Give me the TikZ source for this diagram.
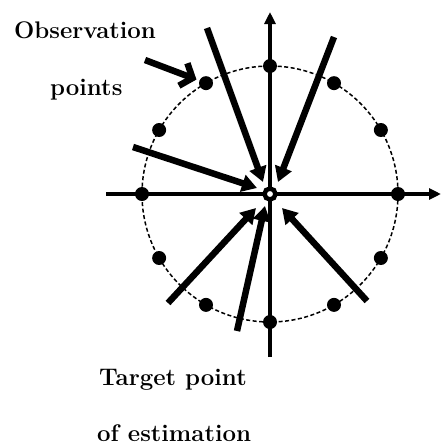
\documentclass[tikz,border=0pt]{standalone}
\usetikzlibrary{arrows.meta,calc}
\begin{document}
\begin{tikzpicture}[x=1pt,y=-1pt,
  axis/.style={line width=3.5pt,-{Triangle[length=12pt,width=11pt]}},
  obsarrow/.style={line width=6.5pt,-{Triangle[length=15pt,width=17pt]}},
  labelarrow/.style={line width=6.5pt,-{Straight Barb[length=10pt,width=24pt,line width=6.5pt]}},
  obsdot/.style={circle,fill=black,inner sep=0pt,minimum size=14pt},
  lbl/.style={font=\fontsize{24}{28}\selectfont\bfseries,anchor=base west,inner sep=0pt}]
\useasboundingbox (0,0) rectangle (441,448);
\coordinate (c) at (270,194);
\draw[line width=1.5pt,dash pattern=on 4pt off 2.5pt] (c) circle (128);
\coordinate (xl) at (106,194);
\coordinate (xr) at (441,194);
\coordinate (yb) at (270,357);
\coordinate (yt) at (270,12);
\draw[axis] (xl) -- (xr);
\draw[axis] (yb) -- (yt);
\foreach \a in {0,30,...,330}{
  \node[obsdot] (d\a) at ($(c)+(-\a:128)$) {};
}
\node[circle,draw=black,fill=white,line width=4.5pt,inner sep=0pt,minimum size=11pt] (t) at (c) {};
% observation arrows
\coordinate (s1) at (207,28);  \coordinate (e1) at (263,182);
\coordinate (s2) at (334,37);  \coordinate (e2) at (278,182);
\coordinate (s3) at (133,147); \coordinate (e3) at (257,188);
\coordinate (s4) at (168,303); \coordinate (e4) at (256,208);
\coordinate (s5) at (237,331); \coordinate (e5) at (265,206);
\coordinate (s6) at (367,301); \coordinate (e6) at (282,208);
\foreach \i in {1,...,6}{\draw[obsarrow] (s\i) -- (e\i);}
\coordinate (ls) at (145,60);
\draw[labelarrow,shorten >=3pt] (ls) -- (d120);
\node[lbl] (o1) at (14,38) {Observation};
\node[lbl] (o2) at (50,95) {points};
\node[lbl] (t1) at (99,385) {Target point};
\node[lbl] (t2) at (97,441) {of estimation};
\end{tikzpicture}
\end{document}
